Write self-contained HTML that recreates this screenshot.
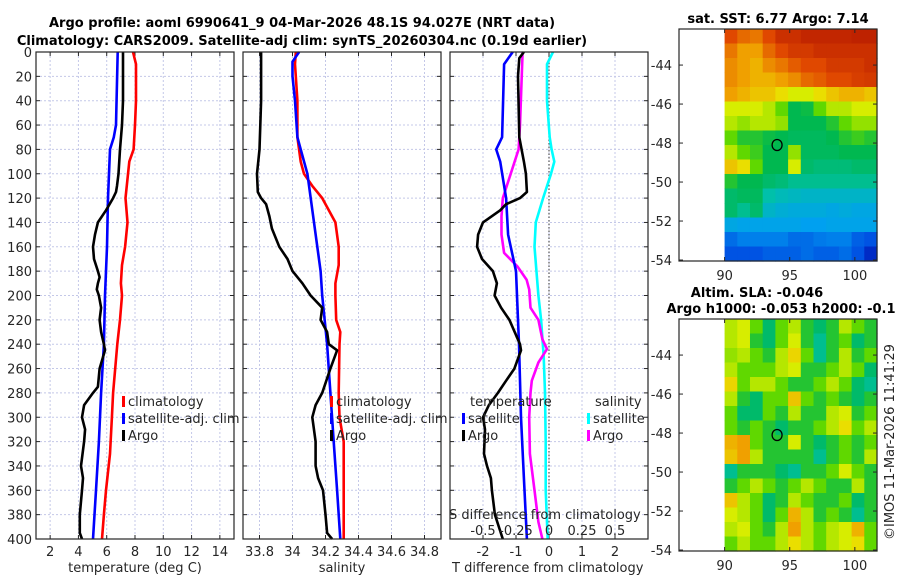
<!DOCTYPE html>
<html><head><meta charset="utf-8"><style>
body{margin:0;background:#fff;width:900px;height:580px;overflow:hidden}
svg{display:block;font-family:"DejaVu Sans","Liberation Sans",sans-serif}
.t{font-size:13px;fill:#262626}
.b{font-size:13px;font-weight:bold;fill:#000}
</style></head><body>
<svg id="c" width="900" height="580" viewBox="0 0 900 580">
<text class="b" x="302" y="27" text-anchor="middle">Argo profile: aoml 6990641_9 04-Mar-2026 48.1S 94.027E (NRT data)</text>
<text class="b" x="302" y="45" text-anchor="middle">Climatology: CARS2009. Satellite-adj clim: synTS_20260304.nc (0.19d earlier)</text>
<text class="b" x="778" y="23" text-anchor="middle">sat. SST: 6.77 Argo: 7.14</text>
<text class="b" x="757" y="297" text-anchor="middle">Altim. SLA: -0.046</text>
<text class="b" x="781" y="313" text-anchor="middle">Argo h1000: -0.053 h2000: -0.1</text>
<text class="t" x="0" y="0" transform="translate(894,540) rotate(-90)">©IMOS 11-Mar-2026 11:41:29</text>
</svg>
<script>
// Temperature profiles (deg C)
const tClimD=[0,10,40,60,80,90,120,140,160,175,190,200,220,240,260,280,300,330,360,380,400];
const tClimV=[7.86,8.07,8.07,8.0,7.9,7.6,7.33,7.47,7.3,7.08,7.0,7.08,6.94,6.75,6.6,6.45,6.37,6.23,5.95,5.8,5.67];
const tSatD=[0,60,70,80,120,160,200,240,280,320,360,400];
const tSatV=[6.78,6.66,6.5,6.23,6.09,6.02,5.88,5.8,5.6,5.45,5.24,5.03];
const tArgoD=[0,40,60,80,100,110,115,120,130,140,150,160,170,180,185,190,195,200,210,220,230,240,245,260,275,280,290,300,310,320,340,350,360,380,395,400];
const tArgoV=[7.15,7.15,7.08,6.94,6.83,6.73,6.66,6.45,5.95,5.38,5.17,5.03,5.1,5.38,5.5,5.38,5.3,5.45,5.6,5.5,5.6,5.8,5.88,5.5,5.38,5.03,4.4,4.25,4.47,4.4,4.18,4.32,4.25,4.1,4.1,4.25];
// Salinity profiles
const sClimD=[0,10,40,70,90,100,110,120,130,140,160,175,190,200,220,230,240,280,300,320,400];
const sClimV=[34.02,34.015,34.03,34.03,34.05,34.07,34.12,34.18,34.22,34.26,34.28,34.28,34.26,34.26,34.265,34.29,34.285,34.28,34.285,34.31,34.31];
const sSatD=[0,8,20,40,70,80,100,140,180,200,240,280,320,360,400];
const sSatV=[34.04,34.0,34.0,34.015,34.03,34.05,34.09,34.13,34.17,34.18,34.21,34.23,34.25,34.27,34.29];
const sArgoD=[0,40,80,100,115,120,125,135,145,160,170,180,190,200,210,220,230,240,245,260,280,290,300,320,340,350,360,380,395,400];
const sArgoV=[33.81,33.81,33.8,33.785,33.79,33.81,33.84,33.86,33.875,33.92,33.97,34.0,34.06,34.11,34.18,34.17,34.21,34.22,34.27,34.23,34.18,34.14,34.12,34.14,34.14,34.155,34.185,34.2,34.21,34.24];
// Differences from climatology
const dtSatD=[0,10,70,80,90,120,150,180,200,240,300,350,400];
const dtSatV=[-1.1,-1.36,-1.42,-1.6,-1.48,-1.3,-1.24,-1.0,-0.97,-0.91,-0.85,-0.76,-0.67];
const dtArgoD=[0,5,20,70,90,100,115,120,125,130,140,150,160,170,180,190,200,210,220,240,245,260,270,280,290,300,310,330,340,350,360,380,400];
const dtArgoV=[-0.76,-0.9,-0.94,-0.9,-0.76,-0.7,-0.67,-0.88,-1.3,-1.48,-2.0,-2.15,-2.18,-2.03,-1.7,-1.58,-1.65,-1.45,-1.2,-0.88,-0.85,-1.05,-1.3,-1.55,-1.82,-2.0,-1.94,-1.97,-1.88,-1.76,-1.73,-1.64,-1.4];
const dsSatD=[0,10,40,70,80,90,100,120,140,160,200,220,250,280,320,360,400];
const dsSatV=[0.03,-0.015,-0.015,0.005,0.02,0.04,0.015,-0.045,-0.1,-0.11,-0.08,-0.06,-0.04,-0.03,-0.025,-0.025,-0.01];
const dsArgoD=[0,60,80,100,120,135,150,165,176,187,195,210,220,236,244,255,270,280,300,330,360,386,400];
const dsArgoV=[-0.2,-0.22,-0.23,-0.29,-0.35,-0.36,-0.36,-0.34,-0.24,-0.17,-0.15,-0.14,-0.08,-0.05,-0.015,-0.08,-0.13,-0.14,-0.15,-0.145,-0.11,-0.08,-0.05];
// tick labels
const depthTicks=[0,20,40,60,80,100,120,140,160,180,200,220,240,260,280,300,320,340,360,380,400];
const tTicks=[2,4,6,8,10,12,14];
const sTicks=[33.8,34,34.2,34.4,34.6,34.8];
const sTickLabels=["33.8","34","34.2","34.4","34.6","34.8"];
const dtTicks=[-2,-1,0,1,2];
const dsTicks=[-0.5,-0.25,0,0.25,0.5];
const dsTickLabels=["-0.5","-0.25","0","0.25","0.5"];
const lonTicks=[90,95,100];
const latTicks=[-44,-46,-48,-50,-52,-54];
// map grids (normalized colour values, rows north->south, 12 cols from 90E)
const sstGrid=[
[0.85,0.8,0.78,0.85,0.9,0.9,0.92,0.92,0.92,0.92,0.93,0.93],
[0.78,0.72,0.72,0.8,0.85,0.88,0.88,0.9,0.9,0.9,0.9,0.9],
[0.75,0.72,0.7,0.75,0.78,0.82,0.85,0.85,0.88,0.88,0.88,0.9],
[0.75,0.72,0.7,0.7,0.72,0.75,0.8,0.82,0.85,0.85,0.87,0.88],
[0.72,0.7,0.68,0.68,0.65,0.62,0.62,0.65,0.68,0.7,0.7,0.68],
[0.62,0.62,0.62,0.6,0.55,0.47,0.48,0.55,0.6,0.6,0.62,0.62],
[0.6,0.58,0.6,0.6,0.58,0.47,0.47,0.47,0.5,0.55,0.58,0.58],
[0.55,0.5,0.5,0.48,0.47,0.46,0.46,0.46,0.47,0.5,0.52,0.5],
[0.6,0.55,0.52,0.47,0.47,0.58,0.46,0.46,0.46,0.47,0.47,0.47],
[0.68,0.65,0.55,0.47,0.47,0.62,0.45,0.44,0.44,0.44,0.45,0.45],
[0.5,0.47,0.47,0.45,0.44,0.42,0.42,0.42,0.42,0.42,0.42,0.42],
[0.45,0.46,0.46,0.4,0.38,0.37,0.36,0.36,0.36,0.36,0.36,0.36],
[0.45,0.42,0.45,0.36,0.34,0.33,0.33,0.33,0.32,0.33,0.32,0.32],
[0.32,0.31,0.31,0.31,0.31,0.31,0.3,0.3,0.31,0.31,0.31,0.31],
[0.22,0.25,0.25,0.25,0.25,0.22,0.22,0.24,0.25,0.25,0.2,0.18],
[0.18,0.18,0.18,0.2,0.2,0.2,0.22,0.2,0.2,0.22,0.18,0.1]];
const slaGrid=[
[0.6,0.62,0.55,0.45,0.55,0.6,0.5,0.45,0.5,0.6,0.55,0.5],
[0.6,0.62,0.5,0.45,0.55,0.62,0.5,0.42,0.5,0.55,0.45,0.5],
[0.58,0.6,0.55,0.5,0.6,0.66,0.55,0.42,0.5,0.6,0.5,0.55],
[0.6,0.55,0.55,0.55,0.6,0.62,0.5,0.5,0.55,0.6,0.55,0.45],
[0.66,0.55,0.6,0.6,0.55,0.5,0.5,0.55,0.6,0.55,0.45,0.42],
[0.6,0.5,0.45,0.55,0.55,0.68,0.55,0.5,0.55,0.5,0.45,0.5],
[0.55,0.45,0.45,0.55,0.5,0.6,0.5,0.5,0.6,0.62,0.5,0.55],
[0.55,0.5,0.55,0.5,0.45,0.5,0.5,0.55,0.6,0.65,0.55,0.6],
[0.7,0.72,0.55,0.5,0.5,0.62,0.5,0.45,0.5,0.55,0.5,0.55],
[0.68,0.72,0.6,0.5,0.5,0.5,0.5,0.42,0.5,0.55,0.5,0.6],
[0.42,0.5,0.5,0.5,0.45,0.42,0.5,0.5,0.55,0.62,0.55,0.5],
[0.5,0.55,0.6,0.55,0.5,0.55,0.6,0.55,0.5,0.5,0.6,0.5],
[0.68,0.6,0.55,0.45,0.5,0.6,0.55,0.5,0.5,0.55,0.45,0.5],
[0.62,0.6,0.55,0.45,0.55,0.7,0.6,0.5,0.55,0.5,0.42,0.5],
[0.6,0.62,0.55,0.5,0.6,0.72,0.6,0.55,0.6,0.62,0.7,0.55],
[0.55,0.6,0.55,0.55,0.6,0.65,0.6,0.55,0.6,0.62,0.65,0.55]];
const argoLon=94.03, argoLat=-48.1;

const NS="http://www.w3.org/2000/svg";
const svg=document.getElementById('c');
function mk(tag,attrs,parent){const e=document.createElementNS(NS,tag);for(const k in attrs)e.setAttribute(k,attrs[k]);(parent||svg).appendChild(e);return e;}
const PT=52,PB=539;
const yD=d=>PT+(PB-PT)*d/400;
function lin(d0,d1,r0,r1){return v=>r0+(v-d0)/(d1-d0)*(r1-r0);}
const panels=[
 {x0:36,x1:234,dom:[1,15],name:'temperature-panel'},
 {x0:243,x1:441,dom:[33.7,34.9],name:'salinity-panel'},
 {x0:450,x1:648,dom:[-3,3],name:'difference-panel'}];
panels.forEach(p=>p.sx=lin(p.dom[0],p.dom[1],p.x0,p.x1));
const dsx=lin(-0.75,0.75,450,648);
const GRID='#c4c8e8';

function drawPanel(p,ticks,labels){
 const g=mk('g',{});
 
 
 depthTicks.forEach(d=>{const l=mk('line',{x1:p.x0,x2:p.x1,y1:yD(d),y2:yD(d),stroke:GRID,'stroke-width':1,'stroke-dasharray':'2,2'},g);
  });
 ticks.forEach(v=>{const x=p.sx(v);const l=mk('line',{x1:x,x2:x,y1:PT,y2:PB,stroke:GRID,'stroke-width':1,'stroke-dasharray':'2,2'},g);
  });
 depthTicks.forEach(d=>{mk('line',{x1:p.x0,x2:p.x0+4,y1:yD(d),y2:yD(d),stroke:'#262626'},g);mk('line',{x1:p.x1-4,x2:p.x1,y1:yD(d),y2:yD(d),stroke:'#262626'},g);});
 ticks.forEach((v,i)=>{const x=p.sx(v);mk('line',{x1:x,x2:x,y1:PB,y2:PB-4,stroke:'#262626'},g);mk('line',{x1:x,x2:x,y1:PT,y2:PT+4,stroke:'#262626'},g);
  const t=mk('text',{x:x,y:556,'text-anchor':'middle','class':'t'},g);t.textContent=labels[i];
  });
 return g;
}
drawPanel(panels[0],tTicks,tTicks.map(String));
drawPanel(panels[1],sTicks,sTickLabels);
drawPanel(panels[2],dtTicks,dtTicks.map(String));
depthTicks.forEach(d=>{const t=mk('text',{x:32,y:yD(d)+5,'text-anchor':'end','class':'t'});t.textContent=d;
 });
const z=mk('line',{x1:panels[2].sx(0),x2:panels[2].sx(0),y1:PT,y2:PB,stroke:'#555','stroke-width':1.2,'stroke-dasharray':'1.5,2'});


function series(D,V,sx,color,name){
 const pts=D.map((d,i)=>sx(V[i]).toFixed(1)+','+yD(d).toFixed(1)).join(' ');
 const pl=mk('polyline',{points:pts,fill:'none',stroke:color,'stroke-width':2.6,'stroke-linejoin':'round'});
 
}
series(tClimD,tClimV,panels[0].sx,'#ff0000','temp-climatology-line');
series(tSatD,tSatV,panels[0].sx,'#0000ff','temp-satellite-line');
series(tArgoD,tArgoV,panels[0].sx,'#000','temp-argo-line');
series(sClimD,sClimV,panels[1].sx,'#ff0000','sal-climatology-line');
series(sSatD,sSatV,panels[1].sx,'#0000ff','sal-satellite-line');
series(sArgoD,sArgoV,panels[1].sx,'#000','sal-argo-line');
series(dsSatD,dsSatV,dsx,'#00ffff','sdiff-satellite-line');
series(dsArgoD,dsArgoV,dsx,'#ff00ff','sdiff-argo-line');
series(dtSatD,dtSatV,panels[2].sx,'#0000ff','tdiff-satellite-line');
series(dtArgoD,dtArgoV,panels[2].sx,'#000','tdiff-argo-line');

panels.forEach(p=>{const r=mk('rect',{x:p.x0,y:PT,width:p.x1-p.x0,height:PB-PT,fill:'none',stroke:'#262626','stroke-width':1.2});
 });

function legend(x,y,items){items.forEach((it,i)=>{const yy=y+i*17;
 const m=mk('rect',{x:x,y:yy-10,width:3,height:11,fill:it[1]});
 const t=mk('text',{x:x+6,y:yy,'class':'t'});t.textContent=it[0];});}
legend(122,406,[['climatology','#f00'],['satellite-adj. clim','#00f'],['Argo','#000']]);
legend(330,406,[['climatology','#f00'],['satellite-adj. clim','#00f'],['Argo','#000']]);
legend(462,423,[['satellite','#00f'],['Argo','#000']]);
legend(587,423,[['satellite','#0ff'],['Argo','#f0f']]);
[['temperature',470,406,'start','legend-title-temperature'],['salinity',595,406,'start','legend-title-salinity'],
 ['S difference from climatology',449,519,'start','s-axis-title'],['temperature (deg C)',135,572,'middle','x-axis-title-temperature'],
 ['salinity',342,572,'middle','x-axis-title-salinity'],['T difference from climatology',452,572,'start','x-axis-title-tdiff']].forEach(a=>{
 const t=mk('text',{x:a[1],y:a[2],'class':'t','text-anchor':a[3]});t.textContent=a[0];
 });
dsTicks.forEach((v,i)=>{const t=mk('text',{x:dsx(v),y:535,'text-anchor':'middle','class':'t'});t.textContent=dsTickLabels[i];
 });

// maps
const stops=[[0,[0,0,143]],[0.15,[0,64,224]],[0.3,[0,160,240]],[0.4,[0,192,170]],[0.47,[0,184,80]],[0.55,[96,216,0]],[0.63,[232,240,0]],[0.72,[240,160,0]],[0.85,[224,72,0]],[1,[160,0,0]]];
function cmap(v){for(let i=1;i<stops.length;i++){if(v<=stops[i][0]){const a=stops[i-1],b=stops[i];const f=(v-a[0])/(b[0]-a[0]);
 const c=a[1].map((q,k)=>Math.round(q+(b[1][k]-q)*f));return `rgb(${c})`;}}return 'rgb(160,0,0)';}
function drawMap(top,bot,grid,name){
 const mx=lin(86.5,101.7,679,877), my=lin(-42.15,-54.05,top,bot);
 const g=mk('g',{});
 const rows=grid.length,cols=grid[0].length;const lonW=(101.7-90)/cols,latH=(54.05-42.15)/rows;
 grid.forEach((row,r)=>row.forEach((v,c)=>{const x=mx(90+c*lonW),y=my(-42.15-r*latH);
  const cell=mk('rect',{x:x.toFixed(2),y:y.toFixed(2),width:(mx(90+(c+1)*lonW)-x+0.6).toFixed(2),height:(my(-42.15-(r+1)*latH)-y+0.6).toFixed(2),fill:cmap(v)},g);
  }));
 mk('rect',{x:679,y:top,width:198,height:bot-top,fill:'none',stroke:'#262626','stroke-width':1.2},g);
 latTicks.forEach(l=>{const y=my(l);mk('line',{x1:679,x2:683,y1:y,y2:y,stroke:'#262626'},g);mk('line',{x1:873,x2:877,y1:y,y2:y,stroke:'#262626'},g);
  const t=mk('text',{x:672,y:y+5,'text-anchor':'end','class':'t'},g);t.textContent=l;});
 lonTicks.forEach(l=>{const x=mx(l);mk('line',{x1:x,x2:x,y1:bot,y2:bot-4,stroke:'#262626'},g);mk('line',{x1:x,x2:x,y1:top,y2:top+4,stroke:'#262626'},g);
  const t=mk('text',{x:x,y:bot+19,'text-anchor':'middle','class':'t'},g);t.textContent=l;});
 const ci=mk('ellipse',{cx:mx(argoLon),cy:my(argoLat),rx:5,ry:5.5,fill:'none',stroke:'#000','stroke-width':1.3},g);
 
}
drawMap(29,261,sstGrid,'sst-map');
drawMap(319,551,slaGrid,'sla-map');
</script>
</body></html>
